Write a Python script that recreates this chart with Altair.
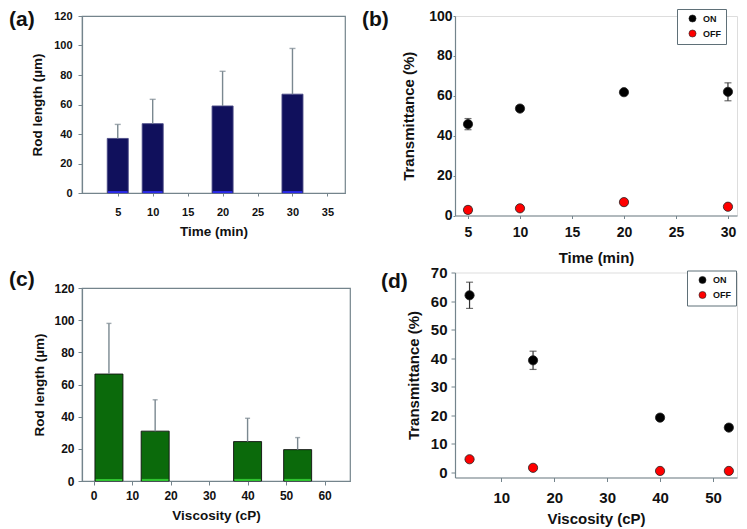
import altair as alt
import pandas as pd

FONT = "Liberation Sans"
AXC = "#74848c"
ERRC = "#7a8890"
NAVY = "#10105c"
GREEN = "#0b6a0b"

# ---------------- data ----------------
panel_labels = ["(a)", "(b)", "(c)", "(d)"]
state_labels = ["ON", "OFF"]

# (a) rod length vs time
time_a = [5, 10, 20, 30]
rod_a = [37, 47, 59, 67]
rod_a_sd = [9.5, 16.5, 23.5, 31]

# (b) transmittance vs time
time_b = [5, 10, 20, 30]
on_b = [45.8, 53.6, 61.8, 62.0]
on_b_sd = [2.8, 0.8, 0.8, 4.5]
off_b = [2.8, 3.6, 6.7, 4.4]
off_b_sd = [1.7, 0.5, 0.5, 0.5]

# (c) rod length vs viscosity
visc_c = [4, 16, 40, 53]
rod_c = [66.5, 31, 24.5, 19.5]
rod_c_sd = [31.5, 19.5, 14.5, 7.5]

# (d) transmittance vs viscosity
visc_d = [4, 16, 40, 53]
on_d = [62.0, 39.2, 19.1, 15.6]
on_d_sd = [4.6, 3.2, 0.6, 0.6]
off_d = [4.5, 1.5, 0.4, 0.4]
off_d_sd = [0.5, 0.5, 0.3, 0.3]


def axis(title, values, lfs, tfs, tick, lpad, tpad):
    return alt.Axis(title=title, values=values, labelFontSize=lfs, titleFontSize=tfs,
                    tickSize=tick, labelPadding=lpad, titlePadding=tpad,
                    labelFont=FONT, titleFont=FONT, labelFontWeight="bold",
                    titleFontWeight="bold", labelColor="#111", titleColor="#111",
                    domainColor=AXC, tickColor=AXC, domainWidth=1.2, tickWidth=1,
                    grid=False, labelOverlap=False, labelFlush=False)


def panel_label(txt, dx, dy):
    return alt.Chart(pd.DataFrame({"lab": [txt]})).mark_text(
        align="left", baseline="middle", fontSize=21, fontWeight="bold",
        font=FONT, color="#111").encode(text="lab:N", x=alt.value(dx), y=alt.value(dy))


def bar_panel(xv, yv, sd, xs, ys, axx, axy, fill, stroke, strip, barsize, cap, label, w, h):
    df = pd.DataFrame({"x": xv, "v": yv, "sd": sd})
    df["top"] = df["v"] + df["sd"]
    X = lambda f: alt.X(f"{f}:Q", scale=xs, axis=axx)
    Y = lambda f: alt.Y(f"{f}:Q", scale=ys, axis=axy)
    base = alt.Chart(df)
    bars = base.mark_bar(size=barsize, color=fill, stroke=stroke, strokeWidth=0.9).encode(
        x=X("x"), y=Y("v"))
    strp = base.mark_bar(size=barsize - 1.5, color=strip).encode(
        x=X("x"), y=alt.YDatum(0, scale=ys, axis=axy), y2=alt.Y2Datum(1.3))
    err = base.mark_rule(color=ERRC, strokeWidth=1.4).encode(x=X("x"), y=Y("v"), y2="top:Q")
    caps = base.mark_tick(orient="horizontal", size=cap, thickness=1.4, color=ERRC).encode(
        x=X("x"), y=Y("top"))
    return alt.layer(bars, strp, err, caps, label).properties(
        width=w, height=h, view=alt.ViewBackground(stroke=AXC, strokeWidth=1.2))


def trans_panel(xv, on, on_sd, off, off_sd, xs, ys, axx, axy, legx, legy, label, w, h):
    df = pd.concat([
        pd.DataFrame({"x": xv, "state": state_labels[0], "v": on, "sd": on_sd}),
        pd.DataFrame({"x": xv, "state": state_labels[1], "v": off, "sd": off_sd}),
    ])
    df["lo"] = df["v"] - df["sd"]
    df["hi"] = df["v"] + df["sd"]
    X = lambda f: alt.X(f"{f}:Q", scale=xs, axis=axx)
    Y = lambda f: alt.Y(f"{f}:Q", scale=ys, axis=axy)
    base = alt.Chart(df)
    rule = base.mark_rule(color="#333", strokeWidth=1.2).encode(x=X("x"), y=Y("lo"), y2="hi:Q")
    cap_hi = base.mark_tick(orient="horizontal", size=7, thickness=1.2, color="#333").encode(
        x=X("x"), y=Y("hi"))
    cap_lo = base.mark_tick(orient="horizontal", size=7, thickness=1.2, color="#333").encode(
        x=X("x"), y=Y("lo"))
    pts = base.mark_circle(size=85, opacity=1, stroke="#222", strokeWidth=0.8).encode(
        x=X("x"), y=Y("v"),
        color=alt.Color("state:N",
                        scale=alt.Scale(domain=state_labels, range=["#000000", "#ff0000"]),
                        legend=alt.Legend(title=None, orient="none", legendX=legx, legendY=legy,
                                          strokeColor="#5f7078", fillColor="white", padding=5,
                                          labelFont=FONT, labelFontSize=9, labelFontWeight="bold",
                                          labelColor="#111", symbolType="circle", symbolSize=50,
                                          symbolStrokeColor="#222", symbolStrokeWidth=0.6,
                                          rowPadding=4, symbolOffset=6, labelOffset=6)))
    return alt.layer(rule, cap_hi, cap_lo, pts, label).properties(width=w, height=h)


# (a)
pa = bar_panel(time_a, rod_a, rod_a_sd,
               alt.Scale(domain=[0.6, 36.8], nice=False, zero=False),
               alt.Scale(domain=[0, 120], nice=False),
               axis("Time (min)", [5, 10, 15, 20, 25, 30, 35], 11, 13.5, 3, 10, 7),
               axis("Rod length (µm)", [0, 20, 40, 60, 80, 100, 120], 11, 13.5, 4, 6, 9),
               NAVY, "#4a4a86", "#2a2ae8", 21, 6, panel_label(panel_labels[0], -73, 4), 263, 177)

# (c)
pc = bar_panel(visc_c, rod_c, rod_c_sd,
               alt.Scale(domain=[-1.7, 65.3], nice=False, zero=False),
               alt.Scale(domain=[0, 120], nice=False),
               axis("Viscosity (cP)", [0, 10, 20, 30, 40, 50, 60], 12, 13.5, 4, 5, 7),
               axis("Rod length (µm)", [0, 20, 40, 60, 80, 100, 120], 12, 13.5, 4, 4, 7),
               GREEN, "#111111", "#2fc42f", 28, 5, panel_label(panel_labels[2], -73, -8), 268, 193)

# (b)
pb = trans_panel(time_b, on_b, on_b_sd, off_b, off_b_sd,
                 alt.Scale(domain=[3.75, 30.87], nice=False, zero=False),
                 alt.Scale(domain=[0, 100], nice=False),
                 axis("Time (min)", [5, 10, 15, 20, 25, 30], 14, 15, 3, 6.5, 11),
                 axis("Transmittance (%)", [0, 20, 40, 60, 80, 100], 14, 15, 2, 1, 12),
                 222, -7, panel_label(panel_labels[1], -93, 4), 282, 199.5)

# (d)
pd_ = trans_panel(visc_d, on_d, on_d_sd, off_d, off_d_sd,
                  alt.Scale(domain=[1.25, 54.54], nice=False, zero=False),
                  alt.Scale(domain=[-1.9, 70], nice=False, zero=False),
                  axis("Viscosity (cP)", [10, 20, 30, 40, 50], 15, 15, 4, 9, 5.5),
                  axis("Transmittance (%)", [0, 10, 20, 30, 40, 50, 60, 70], 15, 15, 4, 4, 9),
                  232, -2, panel_label(panel_labels[3], -74, 9.5), 282, 205)

left = alt.vconcat(pa, pc, spacing=29)
right = alt.vconcat(pb, pd_, spacing=-1.5).resolve_scale(color="independent").resolve_legend(
    color="independent")

chart = alt.hconcat(left, right, spacing=10).resolve_scale(color="independent").resolve_legend(
    color="independent").properties(
    padding=0, background="white"
).configure_view(strokeWidth=0).configure(font=FONT)

chart.save("out.html", embed_options={"renderer": "svg", "actions": False})
